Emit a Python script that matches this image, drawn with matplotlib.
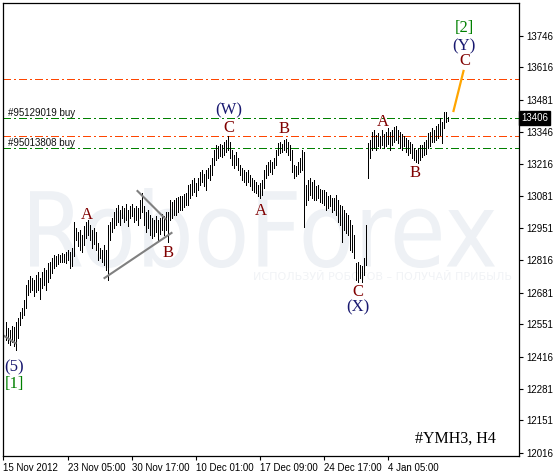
import numpy as np
import matplotlib.pyplot as plt
from matplotlib.textpath import TextPath
from matplotlib.patches import PathPatch
from matplotlib.font_manager import FontProperties
from matplotlib.transforms import Affine2D, IdentityTransform, blended_transform_factory

# H4 bars (high / low)
highs = [12560, 12535, 12526, 12543, 12539, 12560, 12576, 12601, 12618, 12651,
         12713, 12734, 12751, 12742, 12734, 12755, 12767, 12742, 12767, 12784,
         12775, 12804, 12809, 12825, 12838, 12834, 12842, 12838, 12846, 12842,
         12850, 12858, 12850, 12867, 12975, 12950, 12933, 12941, 12921, 12958,
         12975, 12983, 12962, 12941, 12950, 12933, 12887, 12867, 12858, 12879,
         12858, 12962, 12975, 12991, 13016, 13033, 13045, 13024, 13041, 13033,
         13049, 13024, 13041, 13049, 13033, 13041, 13033, 13066, 13095, 13041,
         13016, 13024, 13004, 12991, 12983, 12999, 12983, 12991, 13008, 12999,
         13016, 13016, 13066, 13058, 13066, 13074, 13078, 13083, 13083, 13091,
         13095, 13128, 13132, 13149, 13157, 13136, 13157, 13182, 13190, 13174,
         13190, 13199, 13211, 13240, 13273, 13294, 13290, 13298, 13294, 13306,
         13315, 13331, 13306, 13273, 13252, 13265, 13240, 13211, 13199, 13190,
         13182, 13190, 13170, 13157, 13149, 13141, 13128, 13136, 13149, 13190,
         13211, 13223, 13232, 13223, 13240, 13273, 13302, 13306, 13298, 13315,
         13319, 13306, 13294, 13273, 13211, 13207, 13223, 13240, 13273, 13265,
         13128, 13149, 13157, 13141, 13149, 13124, 13128, 13112, 13107, 13107,
         13099, 13083, 13087, 13074, 13074, 13087, 13066, 13045, 13041, 13024,
         13012, 13004, 12983, 12962, 12921, 12804, 12809, 12796, 12792, 12825,
         12962, 13302, 13315, 13348, 13356, 13335, 13344, 13331, 13356, 13340,
         13348, 13364, 13348, 13356, 13369, 13373, 13356, 13348, 13340, 13331,
         13323, 13315, 13306, 13298, 13281, 13273, 13281, 13294, 13294, 13306,
         13315, 13344, 13348, 13364, 13356, 13373, 13381, 13406, 13389, 13431,
         13431, 13410]
lows = [12485, 12473, 12464, 12477, 12460, 12443, 12493, 12547, 12576, 12589,
        12618, 12672, 12684, 12692, 12667, 12684, 12692, 12655, 12701, 12713,
        12692, 12726, 12742, 12763, 12784, 12792, 12800, 12809, 12809, 12809,
        12804, 12817, 12784, 12792, 12834, 12900, 12875, 12858, 12850, 12879,
        12908, 12921, 12900, 12867, 12883, 12858, 12817, 12825, 12809, 12796,
        12775, 12734, 12900, 12933, 12950, 12962, 12975, 12962, 12991, 12975,
        12983, 12958, 12991, 12999, 12975, 12983, 12962, 12991, 13016, 12962,
        12933, 12950, 12921, 12908, 12917, 12933, 12900, 12925, 12941, 12921,
        12941, 12892, 12983, 12991, 13004, 13004, 13016, 13024, 13024, 13037,
        13045, 13045, 13074, 13087, 13099, 13083, 13107, 13128, 13141, 13124,
        13107, 13157, 13149, 13170, 13211, 13232, 13240, 13248, 13244, 13252,
        13265, 13273, 13240, 13211, 13199, 13211, 13190, 13170, 13149, 13141,
        13128, 13141, 13124, 13107, 13099, 13095, 13083, 13074, 13087, 13116,
        13157, 13170, 13182, 13174, 13199, 13211, 13252, 13261, 13265, 13273,
        13265, 13252, 13232, 13182, 13157, 13166, 13174, 13182, 13190, 12954,
        13045, 13066, 13087, 13074, 13066, 13066, 13074, 13058, 13054, 13045,
        13024, 13033, 13041, 13016, 13024, 13004, 12975, 12962, 12892, 12941,
        12929, 12921, 12858, 12850, 12825, 12734, 12726, 12742, 12726, 12755,
        12796, 13157, 13240, 13273, 13281, 13273, 13290, 13281, 13294, 13281,
        13290, 13298, 13273, 13294, 13306, 13315, 13302, 13281, 13273, 13290,
        13265, 13252, 13261, 13240, 13232, 13223, 13219, 13232, 13244, 13252,
        13256, 13281, 13290, 13306, 13306, 13315, 13323, 13335, 13302, 13364,
        13389, 13394]
bars = np.arange(1, len(highs) + 1)

date_pos = [0, 32, 64, 96, 128, 160, 192]
date_labels = ['15 Nov 2012', '23 Nov 05:00', '30 Nov 17:00', '10 Dec 01:00',
               '17 Dec 09:00', '24 Dec 17:00', '4 Jan 05:00']
price_ticks = [12016, 12151, 12281, 12416, 12551, 12681, 12816, 12951,
               13081, 13216, 13346, 13481, 13616, 13746]
last_price = 13406

red_levels = [13568, 13331]
green_levels = [13406, 13281]
order_names = ['#95129019 buy', '#95013808 buy']

wave_text = ['(5)', '[1]', 'A', 'B', '(W)', 'C', 'A', 'B', 'C', '(X)',
             'A', 'B', '[2]', '(Y)', 'C']
wave_x = [5.5, 5.5, 41.5, 82.5, 112.5, 112.5, 128.5, 140.5, 177, 177,
          189.5, 206, 230.5, 230, 230.5]
wave_y = [12373, 12302, 13004, 12846, 13439, 13364, 13020, 13360, 12684, 12622,
          13389, 13178, 13779, 13705, 13642]
wave_color = ['#191970', '#008000', '#800000', '#800000', '#191970', '#800000',
              '#800000', '#800000', '#800000', '#191970', '#800000', '#800000',
              '#008000', '#191970', '#800000']

# gray trend lines (triangle) and orange projection
trend_lines = [([-0.5, 6], [12506, 12472]),
               ([50.5, 84], [12742, 12929]),
               ([67, 81], [13103, 12987])]
proj_x = [225, 230]
proj_y = [13435, 13601]

W, H = 559, 475
fig = plt.figure(figsize=(W / 100, H / 100), dpi=100)
ax = fig.add_axes([3 / W, 19 / H, 516 / W, 453 / H])

# watermark
fp = FontProperties(family='DejaVu Sans')
tp = TextPath((0, 0), 'RoboForex', size=100, prop=fp)
bb = tp.get_extents()
tr = Affine2D().translate(-bb.x0, -bb.y0).scale(465 / bb.width, 80 / bb.height).translate(30, H - 268)
ax.add_patch(PathPatch(tr.transform_path(tp), fc='#eef1f5', ec='none',
                       transform=IdentityTransform(), zorder=0.5))
ax.text(253 / W, 1 - 277 / H, 'ИСПОЛЬЗУЙ РОБОТОВ – ПОЛУЧАЙ ПРИБЫЛЬ', transform=fig.transFigure,
        fontsize=8, color='#f1f3f6', va='center', ha='left', zorder=0.6)

dd = (8, 3, 2, 3)
for lv in red_levels:
    ax.axhline(lv, color='#ff4500', lw=0.72, dashes=dd, antialiased=False, zorder=1)
for lv in green_levels:
    ax.axhline(lv, color='#008000', lw=0.72, dashes=dd, antialiased=False, zorder=1)
for lv, name in zip(green_levels, order_names):
    ax.text(2.5, lv + 22, name, fontsize=7, family='Liberation Sans', color='#111111',
            va='center', ha='left', zorder=3)

ax.vlines(bars, lows, highs, color='black', lw=0.72, antialiased=False, zorder=2)

for xs, ys in trend_lines:
    ax.plot(xs, ys, color='#808080', lw=1.5, zorder=2.5)
ax.plot(proj_x, proj_y, color='#ffa500', lw=1.6, zorder=2.5)

for s, x, y, c in zip(wave_text, wave_x, wave_y, wave_color):
    ax.text(x, y, s, fontsize=12, family='Liberation Serif', color=c,
            ha='center', va='center', zorder=4)

ax.text(0.955, 0.02, '#YMH3, H4', transform=ax.transAxes, fontsize=11.5,
        family='Liberation Serif', color='black', ha='right', va='bottom')

ax.set_xlim(-0.25, 257.75)
ax.set_ylim(12003.6, 13883)

ax.yaxis.tick_right()
ax.set_yticks(price_ticks)
ax.set_yticklabels([str(p) for p in price_ticks], family='Liberation Sans', fontsize=7)
ax.set_xticks(date_pos)
ax.set_xticklabels(date_labels, family='Liberation Sans', fontsize=7, ha='left')
ax.tick_params(axis='both', length=3, width=0.8, color='black', pad=2)
for sp in ax.spines.values():
    sp.set_color('black')
    sp.set_linewidth(0.9)

bt = blended_transform_factory(ax.transAxes, ax.transData)
ax.text(1.004, last_price, str(last_price), transform=bt, fontsize=7, family='Liberation Sans',
        color='white', va='center', ha='left',
        bbox=dict(boxstyle='square,pad=0.25', fc='black', ec='black'))

fig.savefig('out.png', dpi=100)
